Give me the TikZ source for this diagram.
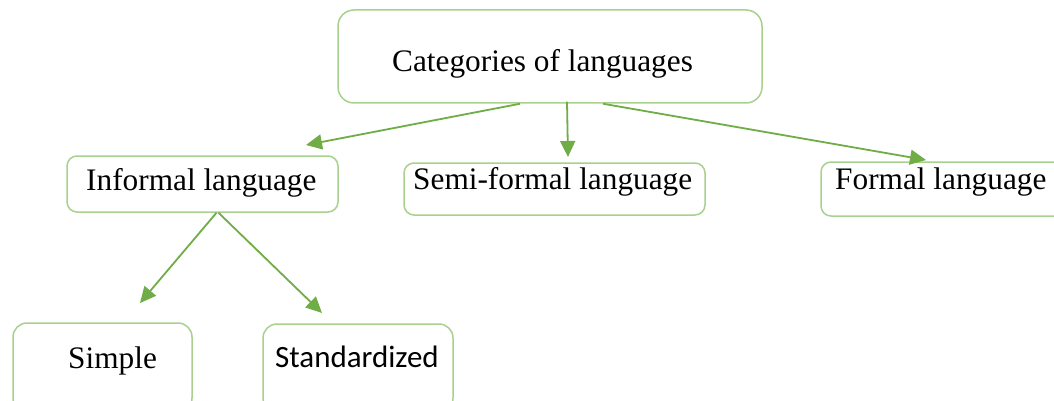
\documentclass[tikz,border=0pt]{standalone}
\usepackage{fontspec}
\setmainfont{Liberation Serif}
\newfontfamily\calfont{Carlito}
\usetikzlibrary{arrows.meta,calc}
\definecolor{boxgreen}{HTML}{A9D18E}
\definecolor{arrowgreen}{HTML}{70AD47}
\tikzset{
  catbox/.style={draw=boxgreen, line width=1.5pt, rounded corners=#1, inner sep=0pt, fill=white},
  catbox/.default=10pt,
  label/.style={anchor=base west, inner sep=0pt, font=\fontsize{31.3}{37}\selectfont},
  link/.style={draw=arrowgreen, line width=1.8pt, -{Triangle[length=16pt,width=15pt]}}
}
\begin{document}
\begin{tikzpicture}[x=1pt,y=-1pt]
  \clip (0,0) rectangle (1054,401);
  \fill[white] (0,0) rectangle (1054,401);

  % boxes
  \node[catbox=16pt, minimum width=424pt, minimum height=93pt] (top) at (550,56.5) {};
  \node[catbox, minimum width=271pt, minimum height=56pt] (inf) at (202.5,184) {};
  \node[catbox, minimum width=301pt, minimum height=52pt] (semi) at (554.5,189) {};
  \node[catbox, minimum width=249pt, minimum height=54pt] (formal) at (945.5,189) {};
  \node[catbox=14pt, minimum width=179pt, minimum height=89pt] (simple) at (102.5,367.5) {};
  \node[catbox=14pt, minimum width=190pt, minimum height=88pt] (std) at (358,368) {};

  % labels
  \node[label] (toptext) at (392,72) {Categories of languages};
  \node[label] (inftext) at (86,190) {Informal language};
  \node[label] (semitext) at (413,189) {Semi-formal language};
  \node[label] (formaltext) at (835,189) {Formal language};
  \node[label] (simpletext) at (68,368) {Simple};
  \node[label, font=\calfont\fontsize{31}{37}\selectfont] (stdtext) at (275,367) {Standardized};

  % arrow ends
  \coordinate (infend) at (306,145);
  \coordinate (semiend) at (568,157);
  \coordinate (formalend) at (926,160);
  \coordinate (simpleend) at (140,303);
  \coordinate (stdend) at (322,313);

  % connectors
  \draw[link] ($(top.south)+(-30,0)$) -- (infend);
  \draw[link] ($(top.south)+(17,-2)$) -- (semiend);
  \draw[link] ($(top.south)+(53,0)$) -- (formalend);
  \draw[link] ($(inf.south)+(14,0)$) -- (simpleend);
  \draw[link] ($(inf.south)+(16,0)$) -- (stdend);
\end{tikzpicture}
\end{document}
